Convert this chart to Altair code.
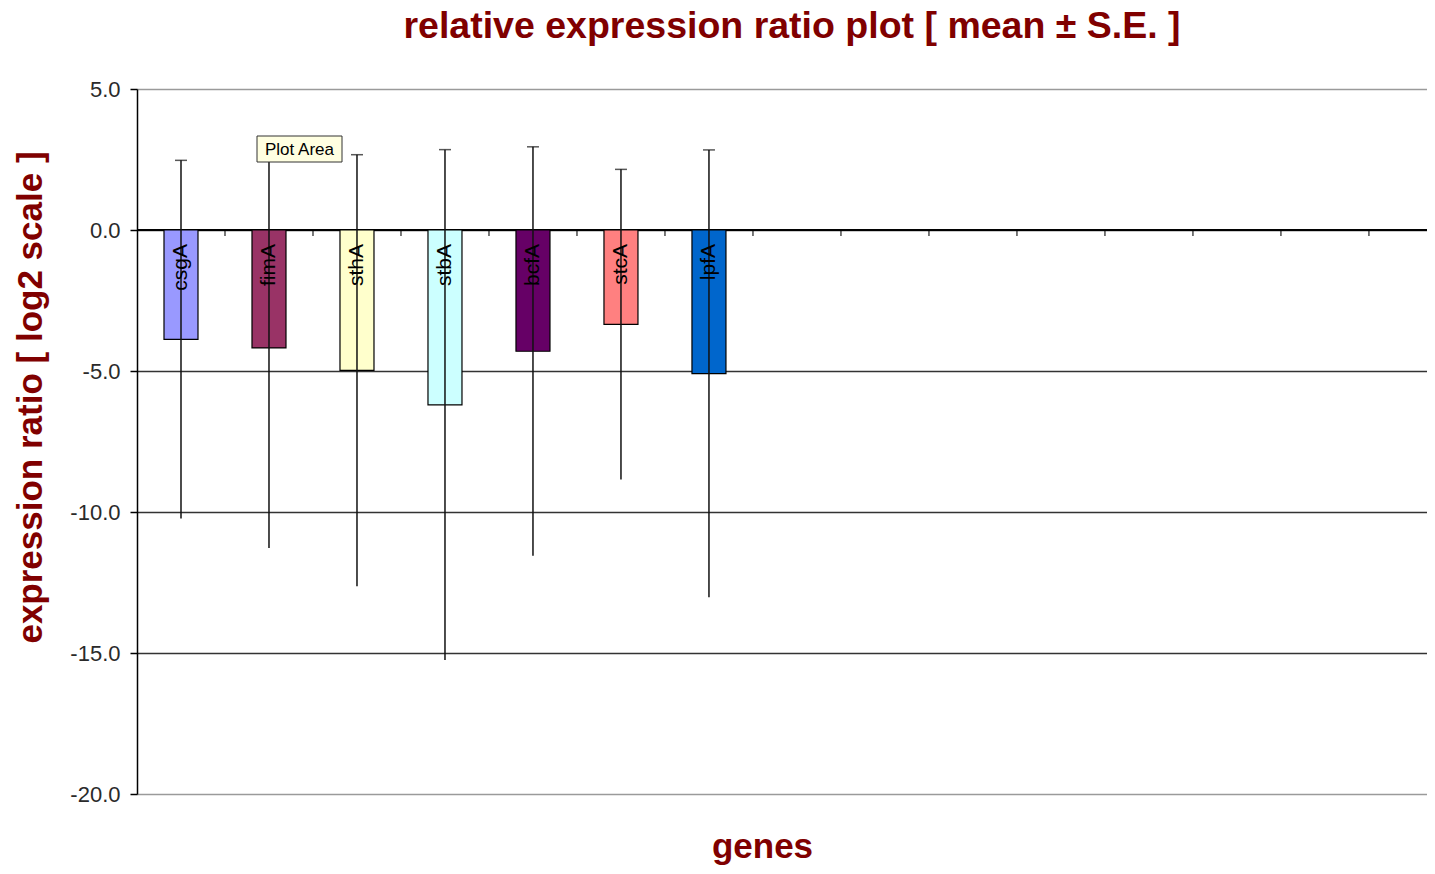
import altair as alt
import pandas as pd

# ---- data ----
genes = ["csgA", "fimA", "sthA", "stbA", "bcfA", "stcA", "lpfA"]
means = [-3.88, -4.18, -4.98, -6.20, -4.30, -3.35, -5.09]
ses = [6.35, 7.10, 7.65, 9.05, 7.25, 5.50, 7.93]
colors = ["#9999FF", "#993366", "#FFFFCC", "#CCFFFF", "#660066", "#FF8080", "#0066CC"]
y_ticks = [5, 0, -5, -10, -15, -20]
n_visible_slots = 14.66          # category slots visible in the window
slot_boundaries = list(range(1, 15))

df = pd.DataFrame({
    "gene": genes,
    "pos": [i + 0.5 for i in range(len(genes))],
    "mean": means,
    "lo": [m - s for m, s in zip(means, ses)],
    "hi": [m + s for m, s in zip(means, ses)],
    "zero": [0] * len(genes),
})
ticks_df = pd.DataFrame({"pos": slot_boundaries, "zero": [0] * len(slot_boundaries)})

DARK_RED = "#800000"
FONT = "Liberation Sans"

x_scale = alt.Scale(domain=[0, n_visible_slots], nice=False, zero=False, padding=0)
x_axis = alt.Axis(
    title="genes", labels=False, ticks=False, domain=False, grid=False,
    titleFontSize=35, titleFont=FONT, titleFontWeight="bold", titleColor=DARK_RED,
    titleX=625, titleY=63, titleBaseline="alphabetic", titleAlign="center",
)
y_scale = alt.Scale(domain=[-20, 5], nice=False, zero=False, padding=0)
y_axis = alt.Axis(
    title="expression ratio [ log2 scale ]", values=y_ticks,
    labelExpr="replace(format(datum.value, '.1f'), '\u2212', '-')",
    labelFontSize=22, labelFont=FONT, labelColor="#2a2a2a", labelPadding=10,
    tickSize=7, tickColor="#000000", tickWidth=1.5,
    domainColor="#000000", domainWidth=1.5,
    grid=True, gridWidth=1.5,
    gridColor={"condition": {"test": "datum.value == 5 || datum.value == -20", "value": "#9a9a9a"},
               "value": "#333333"},
    titleFontSize=35, titleFont=FONT, titleFontWeight="bold", titleColor=DARK_RED,
    titleAngle=270, titleX=-107, titleY=308, titleAlign="center", titleBaseline="middle",
)


def X():
    return alt.X("pos:Q", scale=x_scale, axis=x_axis)


def Y(field):
    return alt.Y(f"{field}:Q", scale=y_scale, axis=y_axis)


bars = alt.Chart(df).mark_bar(size=34, stroke="#000000", strokeWidth=1.2).encode(
    x=X(), y=Y("mean"), y2="zero:Q",
    color=alt.Color("gene:N", scale=alt.Scale(domain=genes, range=colors), legend=None),
)

zero_line = alt.Chart(df).mark_rule(color="#000000", strokeWidth=1.2).encode(
    y=Y("zero"),
)

slot_ticks = alt.Chart(ticks_df).mark_tick(
    orient="vertical", size=6, thickness=1.5, color="#000000", yOffset=3
).encode(x=X(), y=Y("zero"))

err = alt.Chart(df).mark_rule(color="#111111", strokeWidth=1.5).encode(
    x=X(), y=Y("lo"), y2="hi:Q"
)
caps = alt.Chart(df).mark_tick(
    orient="horizontal", size=12, thickness=1.5, color="#111111"
).encode(x=X(), y=Y("hi"))

labels = alt.Chart(df).mark_text(
    angle=270, align="right", baseline="middle", fontSize=21, font=FONT,
    color="#000000", yOffset=14
).encode(x=X(), y=Y("zero"), text="gene:N")

tip_df = pd.DataFrame({"label": ["Plot Area"]})
tip_box = alt.Chart(tip_df).mark_rect(
    fill="#FFFFE1", stroke="#333333", strokeWidth=1
).encode(x=alt.value(120), x2=alt.value(205), y=alt.value(47), y2=alt.value(73))
tip_text = alt.Chart(tip_df).mark_text(
    fontSize=17, font=FONT, color="#000000", align="center", baseline="middle"
).encode(x=alt.value(162.5), y=alt.value(60.5), text="label:N")

chart = alt.layer(
    zero_line, bars, slot_ticks, err, caps, labels, tip_box, tip_text
).properties(
    width=1290, height=705,
    title=alt.TitleParams(
        "relative expression ratio plot [ mean \u00b1 S.E. ]",
        fontSize=37.5, font=FONT, fontWeight="bold", color=DARK_RED,
        anchor="middle", offset=33, dx=10,
    ),
    autosize=alt.AutoSizeParams(type="none"),
    padding={"left": 129, "top": 81, "right": 0, "bottom": 72},
).configure_view(stroke=None).configure(background="#FFFFFF")

chart.save("out.html", embed_options={"renderer": "svg", "actions": False})
